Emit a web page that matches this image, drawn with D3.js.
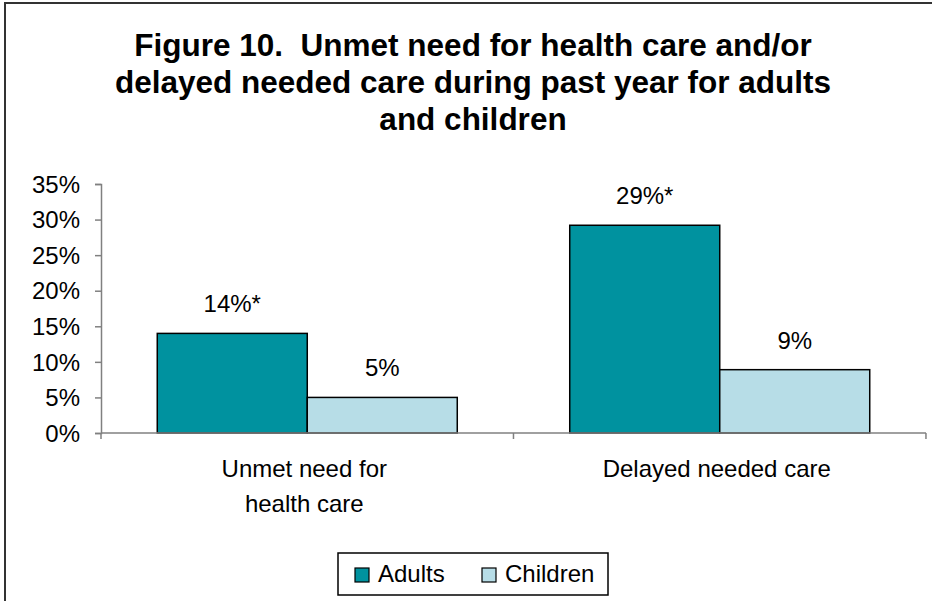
<!DOCTYPE html>
<html>
<head>
<meta charset="utf-8">
<script src="https://cdn.jsdelivr.net/npm/d3@7"></script>
<style>
  body { margin: 0; background: #fff; }
  svg text { font-family: Arial, "Liberation Sans", sans-serif; fill: #000; }
</style>
</head>
<body>
<div id="chart"></div>
<script>
var categories = [["Unmet need for", "health care"], ["Delayed needed care"]];
var seriesNames = ["Adults", "Children"];
var adults = [14.0, 29.2];
var children = [5.0, 8.9];
var valueLabels = [["14%*", "5%"], ["29%*", "9%"]];
var yTicks = [0, 5, 10, 15, 20, 25, 30, 35];
var titleLines = [
  "Figure 10.  Unmet need for health care and/or",
  "delayed needed care during past year for adults",
  "and children"
];
var colors = ["#00929f", "#b7dde7"];

var width = 932, height = 601;
var svg = d3.select("#chart").append("svg")
  .attr("width", width)
  .attr("height", height);

// outer frame (runs off the right and bottom edge)
svg.append("rect")
  .attr("x", 5).attr("y", 3)
  .attr("width", 940).attr("height", 620)
  .attr("fill", "none")
  .attr("stroke", "#333")
  .attr("stroke-width", 2);

// title
svg.append("g").selectAll("text")
  .data(titleLines)
  .enter().append("text")
  .attr("x", 473)
  .attr("y", function(d, i) { return 56 + i * 37; })
  .attr("text-anchor", "middle")
  .style("font-size", "31.5px")
  .style("font-weight", "bold")
  .style("white-space", "pre")
  .text(function(d) { return d; });

var plotLeft = 101, plotRight = 926, plotTop = 184, plotBottom = 433;

var catKeys = categories.map(function(c) { return c.join(" "); });
var x0 = d3.scaleBand()
  .domain(catKeys)
  .range([plotLeft, plotRight])
  .paddingInner(0.2727)
  .paddingOuter(0.1364);

var x1 = d3.scaleBand()
  .domain(seriesNames)
  .range([0, x0.bandwidth()]);

var y = d3.scaleLinear()
  .domain([0, 35])
  .range([plotBottom, plotTop]);

// y axis
var yAxis = svg.append("g")
  .attr("transform", "translate(" + plotLeft + ",0)")
  .call(d3.axisLeft(y)
    .tickValues(yTicks)
    .tickFormat(function(d) { return d + "%"; })
    .tickSize(6)
    .tickPadding(15));
yAxis.select(".domain").attr("stroke", "#808080").attr("stroke-width", 1.5);
yAxis.selectAll(".tick line").attr("stroke", "#808080").attr("stroke-width", 1.5);
yAxis.selectAll(".tick text")
  .style("font-size", "24px")
  .style("font-family", "Arial, 'Liberation Sans', sans-serif")
  .attr("fill", "#000")
  .attr("dy", "0.34em");

// bars
var rows = catKeys.map(function(k, i) {
  return { key: k, values: [adults[i], children[i]], labels: valueLabels[i] };
});

var groups = svg.selectAll(".cat")
  .data(rows)
  .enter().append("g")
  .attr("class", "cat")
  .attr("transform", function(d) { return "translate(" + x0(d.key) + ",0)"; });

groups.selectAll("rect")
  .data(function(d) { return d.values.map(function(v, j) { return { name: seriesNames[j], value: v, j: j }; }); })
  .enter().append("rect")
  .attr("x", function(d) { return x1(d.name); })
  .attr("width", x1.bandwidth())
  .attr("y", function(d) { return y(d.value); })
  .attr("height", function(d) { return plotBottom - y(d.value); })
  .attr("fill", function(d) { return colors[d.j]; })
  .attr("stroke", "#000")
  .attr("stroke-width", 1.5);

groups.selectAll(".vlabel")
  .data(function(d) { return d.values.map(function(v, j) { return { name: seriesNames[j], value: v, label: d.labels[j] }; }); })
  .enter().append("text")
  .attr("class", "vlabel")
  .attr("x", function(d) { return x1(d.name) + x1.bandwidth() / 2; })
  .attr("y", function(d) { return y(d.value) - 21; })
  .attr("text-anchor", "middle")
  .style("font-size", "24px")
  .text(function(d) { return d.label; });

// x axis: line plus ticks between categories
var xAxis = svg.append("g");
xAxis.append("line")
  .attr("x1", plotLeft).attr("x2", plotRight)
  .attr("y1", plotBottom).attr("y2", plotBottom)
  .attr("stroke", "#808080").attr("stroke-width", 1.5);
var bounds = d3.range(catKeys.length + 1).map(function(i) {
  return plotLeft + i * x0.step();
});
xAxis.selectAll(".xtick")
  .data(bounds)
  .enter().append("line")
  .attr("x1", function(d) { return d; }).attr("x2", function(d) { return d; })
  .attr("y1", plotBottom).attr("y2", plotBottom + 6)
  .attr("stroke", "#808080").attr("stroke-width", 1.5);

// category labels
var catLabels = svg.selectAll(".catlabel")
  .data(rows)
  .enter().append("text")
  .attr("class", "catlabel")
  .attr("text-anchor", "middle")
  .attr("transform", function(d) { return "translate(" + (x0(d.key) + x0.bandwidth() / 2 - 3) + ",477)"; })
  .style("font-size", "24px");
catLabels.selectAll("tspan")
  .data(function(d, i) { return categories[i]; })
  .enter().append("tspan")
  .attr("x", 0)
  .attr("y", function(d, i) { return i * 35; })
  .text(function(d) { return d; });

// legend
var legend = svg.append("g");
legend.append("rect")
  .attr("x", 338).attr("y", 553)
  .attr("width", 270).attr("height", 42)
  .attr("fill", "#fff")
  .attr("stroke", "#000")
  .attr("stroke-width", 1.5);
var legendX = [355, 482];
var items = legend.selectAll(".item")
  .data(seriesNames)
  .enter().append("g")
  .attr("transform", function(d, i) { return "translate(" + legendX[i] + ",0)"; });
items.append("rect")
  .attr("x", 0).attr("y", 568)
  .attr("width", 14).attr("height", 14)
  .attr("fill", function(d, i) { return colors[i]; })
  .attr("stroke", "#000")
  .attr("stroke-width", 1.2);
items.append("text")
  .attr("x", 23).attr("y", 582)
  .style("font-size", "24px")
  .text(function(d) { return d; });
</script>
</body>
</html>
